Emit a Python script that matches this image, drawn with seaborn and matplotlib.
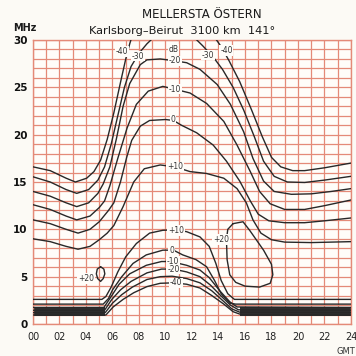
import matplotlib
matplotlib.use("Agg")
import matplotlib.pyplot as plt
import seaborn as sns

# ---- text ----
title = "MELLERSTA ÖSTERN"
subtitle = "Karlsborg–Beirut  3100 km  141°"
hour_ticks = list(range(0, 25, 2))
hour_labels = [f"{h:02d}" for h in hour_ticks]
mhz_ticks = [0, 5, 10, 15, 20, 25, 30]

# ---- upper contour family (dB), hours vs MHz ----
up_m40_left_h = [0, 1.3, 2.5, 3.2, 4.05, 4.6, 5.1, 5.6, 6.1, 6.6, 7.0, 7.3, 7.5]
up_m40_left_f = [16.6, 16.2, 15.4, 15.0, 15.4, 16.1, 17.3, 19.5, 22.3, 25.5, 28.0, 29.6, 30.5]
up_m40_right_h = [13.6, 14.2, 14.8, 15.6, 16.5, 17.3, 18.0, 18.7, 19.6, 20.5, 22.0, 24.0]
up_m40_right_f = [30.5, 29.3, 27.8, 25.6, 22.6, 19.8, 17.6, 16.6, 16.2, 16.2, 16.5, 17.0]

up_m30_left_h = [0, 1.3, 2.5, 3.3, 4.2, 4.9, 5.4, 5.9, 6.4, 6.9, 7.4, 8.0, 8.6, 9.2]
up_m30_left_f = [15.55, 15.0, 14.2, 13.8, 14.2, 15.2, 16.6, 19.0, 22.0, 25.0, 27.2, 28.6, 29.6, 30.4]
up_m30_right_h = [12.0, 12.8, 13.6, 14.3, 15.1, 15.9, 16.7, 17.4, 18.2, 19.2, 20.5, 22.0, 24.0]
up_m30_right_f = [30.5, 29.4, 28.2, 26.9, 25.0, 22.6, 19.8, 17.2, 15.6, 15.0, 14.95, 15.2, 15.6]

up_m20_h = [0, 1.3, 2.5, 3.3, 4.2, 4.9, 5.3, 5.8, 6.3, 6.8, 7.3, 8.1, 8.6, 9.6, 10.7,
            11.6, 12.6, 13.9, 14.9, 15.9, 16.6, 17.4, 18.2, 19.5, 21.0, 22.5, 24.0]
up_m20_f = [14.0, 13.5, 12.8, 12.4, 12.8, 13.8, 14.8, 16.6, 19.6, 23.0, 25.4, 27.4, 27.9, 28.0, 27.8,
            27.6, 26.9, 25.3, 23.2, 20.3, 17.5, 15.1, 14.0, 13.7, 13.75, 14.0, 14.3]

up_m10_h = [0, 1.3, 2.5, 3.3, 4.3, 5.0, 5.4, 5.8, 6.4, 7.1, 7.8, 8.7, 9.8, 10.7, 11.85,
            13.1, 14.4, 15.4, 16.4, 17.1, 17.9, 19.0, 20.5, 22.0, 24.0]
up_m10_f = [12.6, 12.1, 11.4, 11.0, 11.4, 12.3, 13.0, 14.6, 17.5, 20.7, 23.2, 24.6, 25.1, 24.8, 24.4,
            23.3, 21.4, 18.9, 16.1, 14.0, 12.7, 12.1, 12.1, 12.5, 13.1]

up_0_h = [0, 1.3, 2.5, 3.4, 4.3, 5.0, 5.7, 6.1, 6.6, 7.07, 7.45, 8.1, 8.8, 10.0, 10.6, 11.2,
          12.35, 13.6, 14.6, 15.6, 16.4, 17.0, 17.8, 19.0, 20.5, 22.0, 24.0]
up_0_f = [11.0, 10.6, 10.0, 9.6, 10.0, 10.8, 12.0, 12.8, 15.0, 17.6, 19.4, 20.9, 21.5, 21.6, 21.5, 21.0,
          20.2, 18.9, 17.2, 15.1, 13.0, 11.6, 10.9, 10.7, 10.7, 10.9, 11.2]

up_p10_h = [0, 1.3, 2.5, 3.4, 4.3, 5.0, 5.6, 6.1, 6.8, 7.6, 8.4, 9.6, 10.7, 11.85, 13.1,
            14.4, 15.4, 16.1, 16.6, 17.2, 18.0, 19.0, 21.0, 24.0]
up_p10_f = [9.0, 8.7, 8.2, 7.9, 8.2, 8.9, 9.6, 10.4, 12.4, 15.0, 16.4, 16.8, 16.6, 16.1, 15.9,
            15.4, 14.3, 12.8, 11.0, 9.6, 8.9, 8.65, 8.6, 8.7]

# ---- lower contour family (dB) ----
low_p10_h = [0, 5.2, 5.5, 5.9, 6.4, 7.0, 7.8, 8.8, 9.8, 10.8, 11.6, 12.6, 13.3, 13.8, 14.2, 14.7, 15.2, 24]
low_p10_f = [2.6, 2.6, 2.9, 3.9, 5.5, 7.1, 8.5, 9.6, 9.9, 9.95, 9.75, 9.2, 8.2, 6.4, 4.6, 3.2, 2.6, 2.6]

low_0_h = [0, 5.3, 5.7, 6.0, 6.7, 7.55, 8.55, 9.8, 10.6, 11.3, 12.3, 13.1, 13.7, 14.2, 14.85, 15.3, 24]
low_0_f = [2.1, 2.1, 2.7, 3.6, 5.0, 6.4, 7.3, 7.8, 7.8, 7.3, 6.8, 6.05, 4.6, 3.2, 2.2, 2.1, 2.1]

low_m10_h = [0, 5.35, 5.9, 6.5, 7.3, 8.55, 9.7, 10.4, 11.6, 12.6, 13.3, 14.1, 14.85, 15.4, 24]
low_m10_f = [1.75, 1.75, 2.9, 4.2, 5.3, 6.2, 6.6, 6.6, 6.2, 5.7, 4.9, 3.5, 2.35, 1.8, 1.75]

low_m20_h = [0, 5.4, 5.95, 6.6, 7.4, 8.6, 9.7, 10.6, 11.6, 12.6, 13.4, 14.2, 14.9, 15.5, 24]
low_m20_f = [1.45, 1.45, 2.6, 3.6, 4.5, 5.4, 5.8, 5.8, 5.5, 5.0, 4.1, 2.95, 2.0, 1.5, 1.45]

low_m30_h = [0, 5.45, 6.0, 6.7, 7.5, 8.6, 9.6, 10.5, 11.6, 12.6, 13.5, 14.3, 15.0, 15.6, 24]
low_m30_f = [1.2, 1.2, 2.2, 3.1, 3.9, 4.7, 5.0, 5.05, 4.8, 4.35, 3.5, 2.5, 1.6, 1.25, 1.2]

low_m40_h = [0, 5.5, 6.05, 6.8, 7.6, 8.6, 9.6, 10.6, 11.6, 12.6, 13.5, 14.4, 15.1, 15.7, 24]
low_m40_f = [0.95, 0.95, 1.8, 2.6, 3.3, 3.95, 4.3, 4.35, 4.2, 3.8, 3.0, 2.1, 1.3, 1.0, 0.95]

# closed +20 dB islands
loop_small_h = [5.1, 5.35, 5.42, 5.3, 5.1, 4.88, 4.78, 4.85, 5.1]
loop_small_f = [6.05, 5.8, 5.3, 4.8, 4.5, 4.8, 5.3, 5.8, 6.05]
loop_big_h = [15.1, 15.85, 16.35, 16.9, 17.4, 18.0, 18.1, 17.9, 17.1, 16.0, 15.3, 14.85, 14.65, 14.6, 14.7, 15.1]
loop_big_f = [10.6, 10.8, 9.9, 8.8, 7.8, 6.3, 5.2, 4.3, 3.9, 4.0, 4.4, 5.2, 6.8, 8.9, 10.0, 10.6]

# dense low-frequency band (night and afternoon/evening)
band_night_h = [0, 5.45]
band_day_h = [15.6, 24]
band_low_f = 0.8
band_high_f = 1.75

# curve labels: (text, hour, MHz)
curve_labels = [
    ("-40", 6.7, 28.8), ("-30", 7.95, 28.3), ("dB", 10.6, 29.0), ("-20", 10.7, 27.8),
    ("-30", 13.2, 28.4), ("-40", 14.6, 28.9), ("-10", 10.7, 24.8), ("0", 10.55, 21.55),
    ("+10", 10.7, 16.6), ("+10", 10.8, 9.9), ("0", 10.45, 7.8), ("-10", 10.55, 6.6),
    ("-20", 10.6, 5.8), ("-40", 10.8, 4.35), ("+20", 14.2, 8.9), ("+20", 4.0, 4.8),
]

# ---- drawing ----
sns.set_theme(style="white")
plt.rcParams["font.family"] = ["DejaVu Sans"]

grid_red = "#e48a78"
ink = "#282828"

fig = plt.figure(figsize=(3.56, 3.56), dpi=100, facecolor="#fcfaf5")
ax = fig.add_axes([33 / 356, 1 - 324 / 356, 318 / 356, 284 / 356])
ax.set_facecolor("#fffdf9")

ax.set_xlim(0, 24)
ax.set_ylim(0, 30)
ax.set_xticks(hour_ticks)
ax.set_xticklabels(hour_labels)
ax.set_yticks(mhz_ticks)
ax.set_xticks(range(0, 25), minor=True)
ax.set_yticks(range(0, 31), minor=True)
ax.grid(which="both", color=grid_red, lw=0.9)
ax.set_axisbelow(True)
for s in ax.spines.values():
    s.set_color(grid_red)
    s.set_linewidth(1.0)
ax.tick_params(which="both", length=0)
ax.tick_params(axis="x", pad=6, labelsize=7, colors="#222222")
ax.tick_params(axis="y", pad=4, labelsize=7.5, colors="#111111")
for t in ax.get_yticklabels():
    t.set_fontweight("bold")

for hours in (band_night_h, band_day_h):
    ax.fill_between(hours, band_low_f, band_high_f, color="#2e2e2e", lw=0, zorder=2)

curves = [
    (up_m40_left_h, up_m40_left_f), (up_m40_right_h, up_m40_right_f),
    (up_m30_left_h, up_m30_left_f), (up_m30_right_h, up_m30_right_f),
    (up_m20_h, up_m20_f), (up_m10_h, up_m10_f), (up_0_h, up_0_f), (up_p10_h, up_p10_f),
    (low_p10_h, low_p10_f), (low_0_h, low_0_f), (low_m10_h, low_m10_f),
    (low_m20_h, low_m20_f), (low_m30_h, low_m30_f), (low_m40_h, low_m40_f),
    (loop_small_h, loop_small_f), (loop_big_h, loop_big_f),
]
for hx, fy in curves:
    sns.lineplot(x=hx, y=fy, sort=False, estimator=None, color=ink, lw=1.0,
                 ax=ax, zorder=3)
ax.set_xlabel("")
ax.set_ylabel("")

for text, hx, fy in curve_labels:
    ax.text(hx, fy, text, fontsize=5.5, color="#333333", ha="center", va="center",
            zorder=4, bbox=dict(boxstyle="square,pad=0.1", fc="#fffdf9", ec="none"))

fig.text(202 / 356, 1 - 15 / 356, title, ha="center", va="center", fontsize=8.5, color="#1a1a1a")
fig.text(182 / 356, 1 - 31 / 356, subtitle, ha="center", va="center", fontsize=8.2, color="#1a1a1a")
fig.text(25 / 356, 1 - 28 / 356, "MHz", ha="center", va="center", fontsize=7, fontweight="bold", color="#1a1a1a")
fig.text(355 / 356, 1 - 351 / 356, "GMT", ha="right", va="center", fontsize=6, color="#333333")

fig.savefig("out.png", dpi=100, facecolor=fig.get_facecolor())
